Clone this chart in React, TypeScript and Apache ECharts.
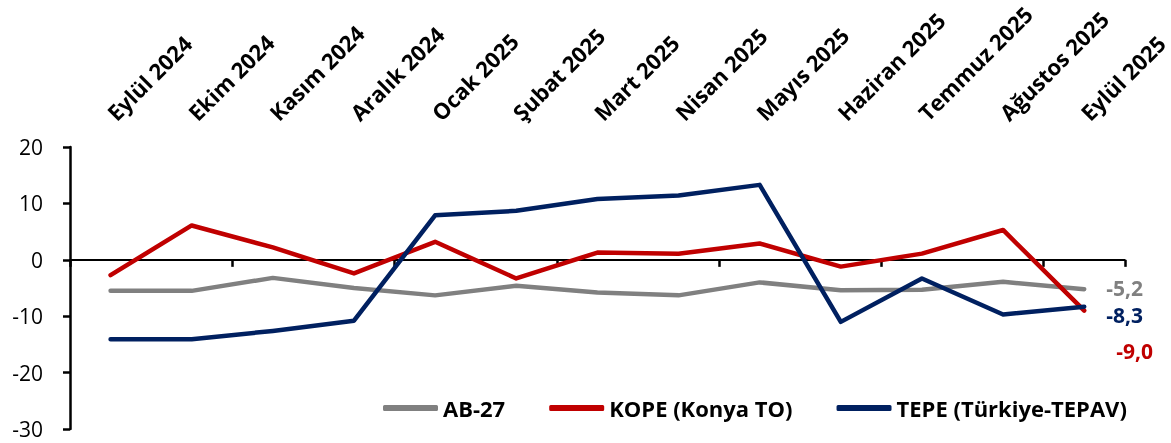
import React, { useEffect, useRef } from "react";
import * as echarts from "echarts";

const categories = [
  "Eylül 2024", "Ekim 2024", "Kasım 2024", "Aralık 2024", "Ocak 2025", "Şubat 2025",
  "Mart 2025", "Nisan 2025", "Mayıs 2025", "Haziran 2025", "Temmuz 2025", "Ağustos 2025", "Eylül 2025",
];
const ab27 = [-5.5, -5.5, -3.2, -5.0, -6.3, -4.6, -5.8, -6.3, -4.0, -5.4, -5.3, -3.9, -5.2];
const kope = [-2.7, 6.1, 2.2, -2.4, 3.2, -3.3, 1.3, 1.1, 2.9, -1.2, 1.1, 5.3, -9.0];
const tepe = [-14.1, -14.1, -12.6, -10.8, 7.9, 8.7, 10.8, 11.4, 13.3, -11.0, -3.3, -9.7, -8.3];
const yTicks = { min: -30, max: 20, interval: 10 };

const FONT = "Open Sans";
const fmt = (v: number) => v.toFixed(1).replace(".", ",");

export default function App() {
  const ref = useRef<HTMLDivElement>(null);
  useEffect(() => {
    const chart = echarts.init(ref.current!, null, { renderer: "svg" });
    const mk = (name: string, data: number[], color: string, off: [number, number]) => ({
      name,
      type: "line",
      data,
      xAxisIndex: 0,
      symbol: "none",
      lineStyle: { color, width: 4.5, cap: "round", join: "round" },
      itemStyle: { color },
      endLabel: {
        show: true,
        formatter: (p: any) => fmt(p.value),
        color,
        fontFamily: FONT,
        fontWeight: "bold",
        fontSize: 21,
        lineHeight: 20,
        distance: 0,
        offset: off,
      },
    });
    chart.setOption({
      animation: false,
      textStyle: { fontFamily: FONT },
      grid: { left: 70, right: 46, top: 145, bottom: 14, containLabel: false },
      xAxis: [
        {
          type: "category",
          data: categories,
          position: "top",
          axisLine: { show: false, onZero: false },
          axisTick: { show: false },
          axisLabel: {
            rotate: -45,
            margin: 31,
            color: "#000",
            fontFamily: FONT,
            fontWeight: "bold",
            fontSize: 22,
            interval: 0,
          },
        },
        {
          type: "category",
          data: categories,
          position: "bottom",
          axisLine: { show: true, onZero: true, lineStyle: { color: "#000", width: 2 } },
          axisTick: { show: true, length: 7, lineStyle: { color: "#000", width: 2.5 } },
          axisLabel: { show: false },
        },
      ],
      yAxis: {
        type: "value",
        min: yTicks.min,
        max: yTicks.max,
        interval: yTicks.interval,
        splitLine: { show: false },
        axisLine: { show: true, lineStyle: { color: "#000", width: 2.5 } },
        axisTick: { show: true, length: 7, lineStyle: { color: "#000", width: 2.5 } },
        axisLabel: { color: "#000", fontFamily: FONT, fontSize: 21, margin: 27 },
      },
      legend: {
        left: 378,
        top: 392,
        itemWidth: 55,
        itemHeight: 6,
        itemGap: 44,
        icon: "roundRect",
        textStyle: { color: "#000", fontFamily: FONT, fontWeight: "bold", fontSize: 22 },
        data: ["AB-27", "KOPE (Konya TO)", "TEPE (Türkiye-TEPAV)"],
      },
      series: [
        mk("AB-27", ab27, "#808080", [22, -1]),
        mk("KOPE (Konya TO)", kope, "#C00000", [32, 40]),
        mk("TEPE (Türkiye-TEPAV)", tepe, "#002060", [22, 8]),
      ],
    });
    return () => chart.dispose();
  }, []);
  return <div ref={ref} style={{ position: "fixed", left: 0, top: 0, width: 1171, height: 443 }} />;
}
